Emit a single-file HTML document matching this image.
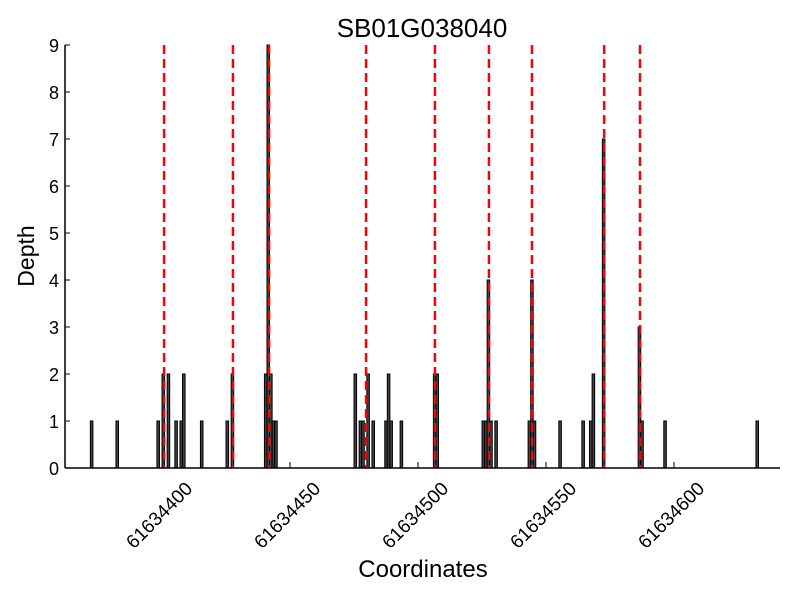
<!DOCTYPE html>
<html><head><meta charset="utf-8"><style>
body{margin:0;background:#fff}
svg text{font-family:"Liberation Sans",sans-serif}
</style></head><body>
<svg id="chart" width="800" height="600">
<text x="422" y="37" font-size="26" text-anchor="middle">SB01G038040</text>
<text transform="translate(34,256) rotate(-90)" font-size="23" text-anchor="middle">Depth</text>
<text x="423" y="577" font-size="24" text-anchor="middle">Coordinates</text>
<g id="bars"></g><g id="lines"></g><g id="axes"></g>
</svg>
<script>
const positions=[372,382,398,400,402,405,407,408,415,425,427,440,441,442,443,444,475,477,478,480,482,487,488,489,493,506,507,525,526,527,528,530,543,544,545,555,564,567,568,572,586,587,596,632];
const depths=[1,1,1,2,2,1,1,2,1,1,2,2,9,2,1,1,2,1,1,2,1,1,2,1,1,2,2,1,1,4,1,1,1,4,1,1,1,1,2,7,3,1,1,1];
const boundaries=[400.8,427.7,441.8,479.7,506.6,527.7,544.5,572.7,586.7];
const xTicks=[61634400,61634450,61634500,61634550,61634600];
const yTicks=[0,1,2,3,4,5,6,7,8,9];
const base=61634000;
const X0=65,X1=780,Y0=468,Y1=45;
const xmin=362.1,xmax=641.4;
const sx=v=>X0+(v-xmin)/(xmax-xmin)*(X1-X0);
const sy=v=>Y0+(v-0)/(9-0)*(Y1-Y0);
const NS='http://www.w3.org/2000/svg';
function mk(t,a,p){const e=document.createElementNS(NS,t);for(const k in a)e.setAttribute(k,a[k]);p.appendChild(e);return e;}
const bars=document.getElementById('bars'),lines=document.getElementById('lines'),axes=document.getElementById('axes');
positions.forEach((p,i)=>{
 const x=sx(p),w=sx(p+1)-x,y=sy(depths[i]);
 const r=mk('rect',{x:x,y:y,width:w,height:Y0-y,fill:'#444',stroke:'#000','stroke-width':1},bars);
 
 
});
boundaries.forEach(b=>{
 const l=mk('line',{x1:sx(b),x2:sx(b),y1:Y1,y2:Y0,stroke:'#f00','stroke-width':2.5,'stroke-dasharray':'9,5'},lines);
 
 
});
const ya=mk('line',{x1:X0,x2:X0,y1:Y1,y2:Y0,stroke:'#000','stroke-width':1.5},axes);


const xa=mk('line',{x1:X0,x2:X1,y1:Y0,y2:Y0,stroke:'#000','stroke-width':1.5},axes);


yTicks.forEach(v=>{
 const y=sy(v);
 mk('line',{x1:X0,x2:X0+5,y1:y,y2:y,stroke:'#000'},axes);
 const t=mk('text',{x:X0-6,y:y+7,'font-size':18,'text-anchor':'end'},axes);
 t.textContent=v;
 
 
});
xTicks.forEach(v=>{
 const x=sx(v-base);
 mk('line',{x1:x,x2:x,y1:Y0,y2:Y0-6,stroke:'#000'},axes);
 const t=mk('text',{transform:`translate(${x-3},${Y0+47}) rotate(-45)`,'font-size':19,'text-anchor':'middle',dy:'0.35em'},axes);
 t.textContent=v;
 
 
});
</script>
</body></html>
